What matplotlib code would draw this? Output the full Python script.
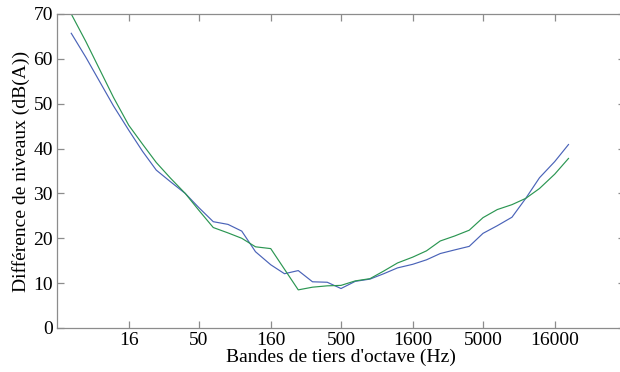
import matplotlib
matplotlib.use("Agg")
import matplotlib.pyplot as plt
from matplotlib.ticker import FixedLocator, NullLocator, FixedFormatter

plt.rcParams['font.family'] = ['Liberation Serif', 'DejaVu Serif']

freqs = [6.3, 8, 10, 12.5, 16, 20, 25, 31.5, 40, 50, 63, 80, 100, 125, 160, 200,
         250, 315, 400, 500, 630, 800, 1000, 1250, 1600, 2000, 2500, 3150, 4000,
         5000, 6300, 8000, 10000, 12500, 16000, 20000]
blue_vals = [65.7, 60.3, 54.9, 49.5, 44.1, 39.4, 35.2, 32.6, 30.0, 26.8, 23.7, 23.1,
             21.6, 17.0, 14.1, 12.1, 12.8, 10.3, 10.2, 8.8, 10.4, 10.9, 12.1, 13.4,
             14.2, 15.2, 16.6, 17.4, 18.2, 21.1, 22.8, 24.7, 28.9, 33.5, 37.1, 40.9]
green_vals = [70.0, 63.8, 57.6, 51.4, 45.2, 41.0, 36.9, 33.4, 30.0, 26.2, 22.4, 21.2,
              20.0, 18.1, 17.7, 13.1, 8.5, 9.1, 9.4, 9.5, 10.5, 11.0, 12.7, 14.5,
              15.8, 17.2, 19.4, 20.5, 21.8, 24.6, 26.4, 27.5, 28.9, 31.1, 34.3, 37.8]
xticks = [16, 50, 160, 500, 1600, 5000, 16000]
xticklabels = ["16", "50", "160", "500", "1600", "5000", "16000"]
yticks = [0, 10, 20, 30, 40, 50, 60, 70]

W, H = 620, 372
fig = plt.figure(figsize=(W / 100, H / 100), dpi=100)
ax = fig.add_axes([57 / W, 44 / H, (625 - 57) / W, 314 / H])

ax.plot(freqs, blue_vals, color="#4a63b8", lw=0.85)
ax.plot(freqs, green_vals, color="#2b9652", lw=0.85)

ax.set_xscale("log")
ax.set_xlim(5, 50000)
ax.set_ylim(0, 70)
ax.xaxis.set_major_locator(FixedLocator(xticks))
ax.xaxis.set_major_formatter(FixedFormatter(xticklabels))
ax.xaxis.set_minor_locator(NullLocator())
ax.set_yticks(yticks)

for s in ax.spines.values():
    s.set_color("#8c8c8c")
    s.set_linewidth(0.9)
ax.tick_params(axis="both", which="both", direction="in", length=5, width=0.9,
               color="#8c8c8c", labelsize=14, top=True, right=True, pad=3)

ax.set_xlabel("Bandes de tiers d'octave (Hz)", fontsize=14, labelpad=0)
ax.set_ylabel("Différence de niveaux (dB(A))", fontsize=14, labelpad=2)

fig.savefig("out.png", dpi=100)
